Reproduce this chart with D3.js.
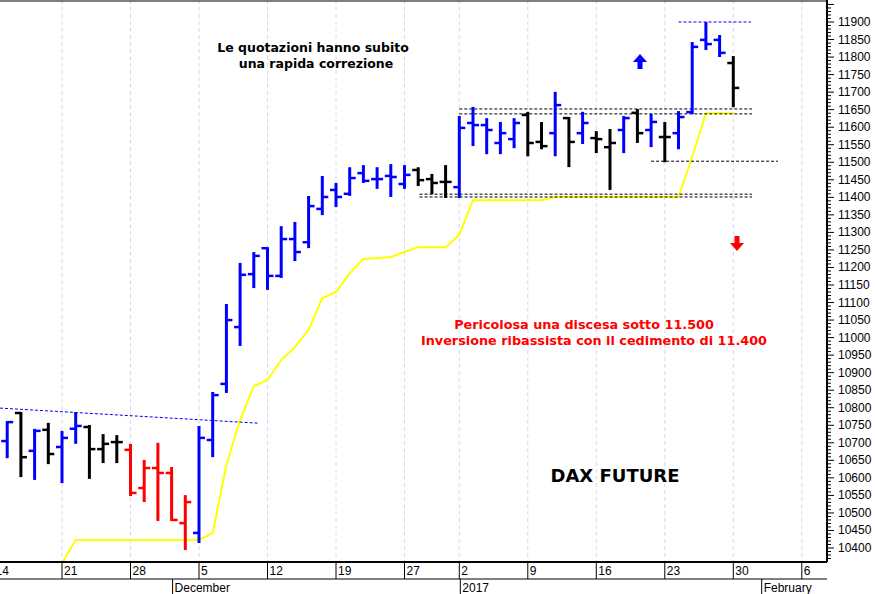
<!DOCTYPE html>
<html>
<head>
<meta charset="utf-8">
<script src="https://cdn.jsdelivr.net/npm/d3@7"></script>
<style>
  body { margin: 0; background: #fff; }
  svg { display: block; }
</style>
</head>
<body>
<svg id="chart" width="876" height="594"></svg>
<script>
// trading days, Nov 14 2016 .. Jan 30 2017
const dates = [
  '2016-11-14', '2016-11-15', '2016-11-16', '2016-11-17', '2016-11-18',
  '2016-11-21', '2016-11-22', '2016-11-23', '2016-11-24', '2016-11-25',
  '2016-11-28', '2016-11-29', '2016-11-30', '2016-12-01', '2016-12-02',
  '2016-12-05', '2016-12-06', '2016-12-07', '2016-12-08', '2016-12-09',
  '2016-12-12', '2016-12-13', '2016-12-14', '2016-12-15', '2016-12-16',
  '2016-12-19', '2016-12-20', '2016-12-21', '2016-12-22', '2016-12-23',
  '2016-12-27', '2016-12-28', '2016-12-29', '2016-12-30',
  '2017-01-02', '2017-01-03', '2017-01-04', '2017-01-05', '2017-01-06',
  '2017-01-09', '2017-01-10', '2017-01-11', '2017-01-12', '2017-01-13',
  '2017-01-16', '2017-01-17', '2017-01-18', '2017-01-19', '2017-01-20',
  '2017-01-23', '2017-01-24', '2017-01-25', '2017-01-26', '2017-01-27',
  '2017-01-30'
]
const opens = [10720, 10705, 10785, 10677, 10737, 10688, 10740, 10745, 10682, 10702,
  10680, 10571, 10628, 10614, 10471, 10443, 10708, 10868, 11030, 11181,
  11255, 11176, 11281, 11272, 11367, 11421, 11410, 11469, 11452, 11461,
  11438, 11478, 11452, 11444, 11429, 11612, 11606, 11555, 11566, 11635,
  11558, 11583, 11626, 11583, 11569, 11543, 11592, 11641, 11592, 11572,
  11583, 11643, 11849, 11849, 11783]
const highs = [10760, 10759, 10785, 10737, 10754, 10731, 10785, 10748, 10722, 10719,
  10694, 10648, 10697, 10628, 10548, 10745, 10842, 11093, 11210, 11241,
  11255, 11315, 11327, 11401, 11458, 11438, 11483, 11489, 11483, 11492,
  11489, 11483, 11464, 11489, 11629, 11655, 11623, 11612, 11623, 11641,
  11612, 11698, 11626, 11641, 11586, 11592, 11629, 11649, 11635, 11612,
  11643, 11840, 11897, 11860, 11800]
const lows = [10660, 10659, 10605, 10597, 10642, 10588, 10700, 10600, 10645, 10645,
  10551, 10534, 10480, 10480, 10397, 10417, 10662, 10845, 10979, 11144,
  11139, 11173, 11221, 11258, 11352, 11375, 11407, 11444, 11427, 11404,
  11427, 11435, 11412, 11401, 11401, 11549, 11526, 11526, 11543, 11520,
  11540, 11520, 11489, 11555, 11529, 11424, 11529, 11558, 11546, 11503,
  11540, 11640, 11823, 11803, 11660]
const closes = [10700, 10759, 10659, 10734, 10668, 10714, 10748, 10682, 10697, 10702,
  10557, 10628, 10614, 10480, 10531, 10714, 10836, 11050, 11179, 11233,
  11176, 11281, 11244, 11375, 11401, 11401, 11455, 11447, 11452, 11458,
  11464, 11449, 11441, 11444, 11598, 11606, 11592, 11583, 11612, 11555,
  11546, 11663, 11558, 11612, 11566, 11555, 11626, 11583, 11615, 11572,
  11629, 11829, 11837, 11812, 11712]
// b = blue, k = black, r = red
const barColors = 'bbkbkbbkkkrrrrrbbbbbbbbbbbbbbbbkkkbbbbbkkbkbkkbkbkbbbbk'
const stopLine = [10357, 10357, 10357, 10357, 10357, 10357, 10423, 10423, 10423, 10423,
  10423, 10423, 10423, 10423, 10423, 10423, 10443, 10637, 10765, 10862,
  10879, 10936, 10973, 11022, 11113, 11130, 11184, 11224, 11227, 11230,
  11244, 11258, 11258, 11258, 11293, 11392, 11392, 11392, 11392, 11392,
  11392, 11401, 11401, 11401, 11401, 11401, 11401, 11401, 11401, 11401,
  11401, 11515, 11640, 11640, 11640]
const priceTicks = d3.range(10400, 11901, 50)
const weekLabels = [[0, '14'], [5, '21'], [10, '28'], [15, '5'], [20, '12'], [25, '19'],
  [30, '27'], [34, '2'], [39, '9'], [44, '16'], [49, '23'], [54, '30'], [59, '6']]
const monthLabels = [[13, 'December'], [34, '2017'], [56, 'February']]

const svg = d3.select('#chart')
const plotRight = 827
const plotBottom = 562

const x = d3.scaleLinear().domain([5, 54]).range([62, 733.3])
const y = d3.scaleLinear().domain([10400, 11900]).range([548, 22])
const color = { b: '#0000ff', k: '#000000', r: '#ff0000' }

svg.append('defs').append('clipPath').attr('id', 'clip')
  .append('rect').attr('x', 0).attr('y', 0).attr('width', plotRight).attr('height', plotBottom)

// week grid
svg.append('g').selectAll('line')
  .data(weekLabels)
  .join('line')
  .attr('x1', (d) => x(d[0])).attr('x2', (d) => x(d[0]))
  .attr('y1', 0).attr('y2', plotBottom)
  .attr('stroke', '#d8d8f0')
  .attr('stroke-dasharray', '4,3')

const plot = svg.append('g').attr('clip-path', 'url(#clip)')

// yellow stop line
plot.append('path')
  .datum(stopLine)
  .attr('fill', 'none')
  .attr('stroke', '#ffff00')
  .attr('stroke-width', 2)
  .attr('d', d3.line().x((d, i) => x(i)).y((d) => y(d)))

// reference lines
const dashed = (x1, x2, v1, v2, col, dash) => plot.append('line')
  .attr('x1', x1).attr('x2', x2).attr('y1', y(v1)).attr('y2', y(v2))
  .attr('stroke', col).attr('stroke-width', 1).attr('stroke-dasharray', dash)
dashed(0, 258, 10799, 10756, '#0000ff', '3,2')
dashed(x(31.1), 752, 11409, 11409, '#000', '3,2')
dashed(x(31.1), 752, 11401, 11401, '#000', '3,2')
dashed(x(34), 752, 11652, 11652, '#000', '3,2')
dashed(x(34), 752, 11638, 11638, '#000', '3,2')
dashed(x(48), 778, 11503, 11503, '#000', '3,2')
dashed(x(50), 751, 11900, 11900, '#0000ff', '3,2')

// OHLC bars
const bars = plot.append('g').selectAll('g')
  .data(dates.map((d, i) => ({ i, o: opens[i], h: highs[i], l: lows[i], c: closes[i], col: color[barColors[i]] })))
  .join('g')
  .attr('stroke', (d) => d.col)
  .attr('stroke-width', 3)
bars.append('line')
  .attr('x1', (d) => x(d.i)).attr('x2', (d) => x(d.i))
  .attr('y1', (d) => y(d.h) - 1).attr('y2', (d) => y(d.l) + 1)
bars.append('line')
  .attr('x1', (d) => x(d.i) - 6).attr('x2', (d) => x(d.i))
  .attr('y1', (d) => y(d.o)).attr('y2', (d) => y(d.o))
  .attr('stroke-width', 2.5)
bars.append('line')
  .attr('x1', (d) => x(d.i)).attr('x2', (d) => x(d.i) + 6)
  .attr('y1', (d) => y(d.c)).attr('y2', (d) => y(d.c))
  .attr('stroke-width', 2.5)

// arrows
const arrow = (cx, cy, dir, col) => svg.append('path')
  .attr('fill', col)
  .attr('transform', `translate(${cx},${cy}) scale(1,${dir})`)
  .attr('d', 'M0,-8 L7,0 L2.5,0 L2.5,7 L-2.5,7 L-2.5,0 L-7,0 Z')
arrow(640, 62, 1, '#0000ff')
arrow(737, 243, -1, '#ff0000')

// texts
const txt = (t, tx, ty, size, col) => svg.append('text')
  .attr('x', tx).attr('y', ty).attr('text-anchor', 'middle')
  .attr('font-family', 'DejaVu Sans, sans-serif').attr('font-weight', 'bold')
  .attr('font-size', size).attr('fill', col).text(t)
txt('Le quotazioni hanno subito', 313, 52, 12.5, '#000')
txt('una rapida correzione', 316, 68, 12.5, '#000')
txt('Pericolosa una discesa sotto 11.500', 584, 329, 12.8, '#ff0000')
txt('Inversione ribassista con il cedimento di 11.400', 594, 345, 12.8, '#ff0000')
txt('DAX FUTURE', 615, 482, 18, '#000')

// frame + right axis
svg.append('line').attr('x1', 0).attr('x2', plotRight).attr('y1', 1).attr('y2', 1).attr('stroke', '#000')
svg.append('line').attr('x1', plotRight).attr('x2', plotRight).attr('y1', 0).attr('y2', plotBottom).attr('stroke', '#000').attr('stroke-width', 2)
const axis = svg.append('g').attr('transform', `translate(${plotRight},0)`)
axis.selectAll('line.minor')
  .data(d3.range(10360, 11960, 10))
  .join('line')
  .attr('x1', 0).attr('x2', (d) => (d % 50 === 0 ? 7 : 4))
  .attr('y1', (d) => y(d)).attr('y2', (d) => y(d))
  .attr('stroke', '#000')
  .filter((d) => y(d) > plotBottom || y(d) < 0).remove()
axis.selectAll('text')
  .data(priceTicks)
  .join('text')
  .attr('x', 11).attr('y', (d) => y(d) + 4)
  .attr('font-family', 'Liberation Sans, Arial, sans-serif').attr('font-size', 12)
  .text((d) => d)

// date axis
const da = svg.append('g').attr('font-family', 'Liberation Sans, Arial, sans-serif').attr('font-size', 12)
da.append('line').attr('x1', 0).attr('x2', plotRight).attr('y1', plotBottom).attr('y2', plotBottom).attr('stroke', '#000').attr('stroke-width', 2)
da.append('line').attr('x1', 0).attr('x2', plotRight).attr('y1', 579).attr('y2', 579).attr('stroke', '#000')
da.selectAll('line.wk').data(weekLabels).join('line')
  .attr('x1', (d) => x(d[0])).attr('x2', (d) => x(d[0]))
  .attr('y1', plotBottom).attr('y2', 579).attr('stroke', '#000')
da.selectAll('text.wk').data(weekLabels).join('text')
  .attr('x', (d) => x(d[0]) + 2).attr('y', 575).text((d) => d[1])
da.selectAll('line.mo').data(monthLabels).join('line')
  .attr('x1', (d) => x(d[0]) + 1).attr('x2', (d) => x(d[0]) + 1)
  .attr('y1', 579).attr('y2', 594).attr('stroke', '#000')
da.selectAll('text.mo').data(monthLabels).join('text')
  .attr('x', (d) => x(d[0]) + 3).attr('y', 592).text((d) => d[1])
</script>
</body>
</html>
